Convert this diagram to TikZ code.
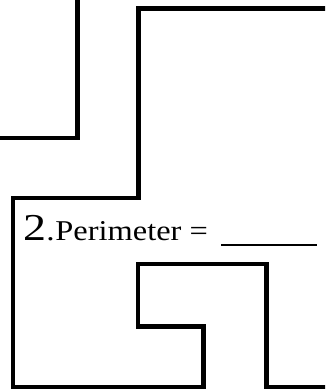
\documentclass[tikz,border=0pt]{standalone}
\usepackage{fontspec}
\setmainfont{Liberation Serif}
\begin{document}
\begin{tikzpicture}[x=1pt,y=-1pt,
  wall/.style={line width=4.5pt, line join=miter, black},
  lbl/.style={inner sep=0pt, anchor=base west, transform shape}]
\useasboundingbox (0,0) rectangle (325,389);
\clip (0,0) rectangle (325,389);
% left partial shape
\draw[wall] (77.7,-10) -- (77.7,138) -- (-10,138);
% big shape
\draw[wall] (340,8.3) -- (138.3,8.3) -- (138.3,198) -- (13,198) -- (13,387)
  -- (203.3,387) -- (203.3,326.4) -- (138,326.4) -- (138,264) -- (266.6,264)
  -- (266.6,387) -- (340,387);
% label
\node[lbl, xscale=1.21] (two) at (23.6,240.7) {\fontsize{38}{38}\selectfont 2};
\node[lbl, xscale=1.16] (dot) at (46.2,240.7) {\fontsize{28.7}{28.7}\selectfont .};
\node[lbl, xscale=1.13] (perim) at (55.2,240.7) {\fontsize{28.7}{28.7}\selectfont Perimeter =};
\coordinate (ua) at (221,245);
\coordinate (ub) at (317.3,245);
\draw[line width=2.5pt] (ua) -- (ub);
\end{tikzpicture}
\end{document}
